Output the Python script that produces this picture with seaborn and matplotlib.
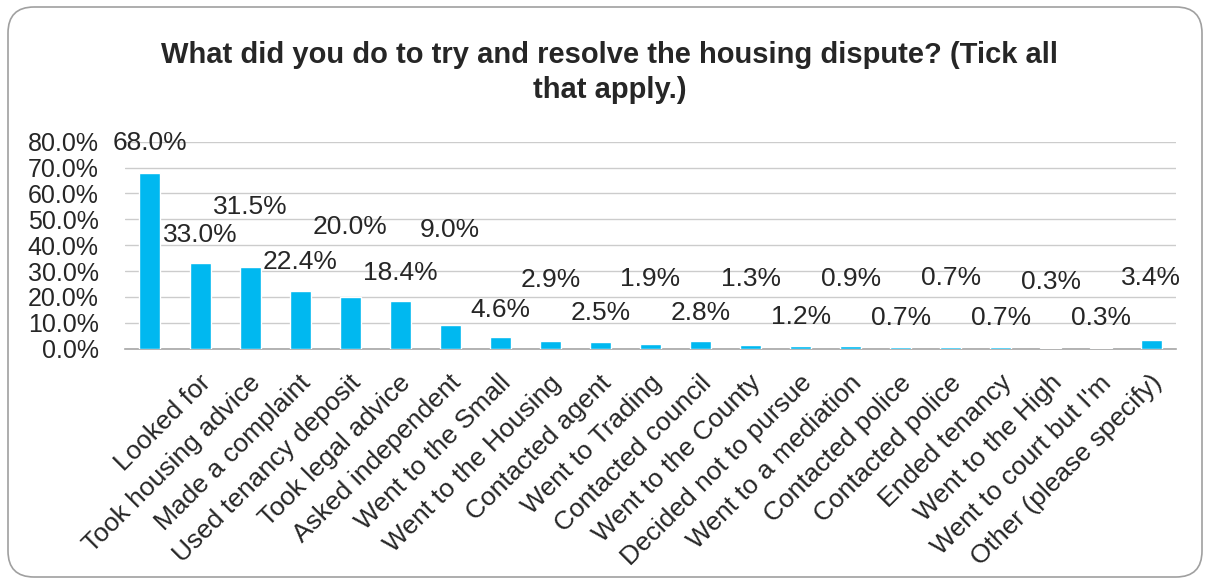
import numpy as np
import pandas as pd
import matplotlib
matplotlib.use("Agg")
import matplotlib.pyplot as plt
from matplotlib.patches import FancyBboxPatch
from matplotlib.ticker import FixedLocator, FuncFormatter
import seaborn as sns

# data
# (the x labels sit one slot to the right of the bars in the original,
#  so the first slot has no label)
categories = ["", "Looked for", "Took housing advice", "Made a complaint",
              "Used tenancy deposit", "Took legal advice", "Asked independent",
              "Went to the Small", "Went to the Housing", "Contacted agent",
              "Went to Trading", "Contacted council", "Went to the County",
              "Decided not to pursue", "Went to a mediation", "Contacted police",
              "Contacted police", "Ended tenancy", "Went to the High",
              "Went to court but I'm", "Other (please specify)"]
percent = [68.0, 33.0, 31.5, 22.4, 20.0, 18.4, 9.0, 4.6, 2.9, 2.5, 1.9,
           2.8, 1.3, 1.2, 0.9, 0.7, 0.7, 0.7, 0.3, 0.3, 3.4]

# where each data label was placed (in axis %), layout only
label_y = [79.4, 43.9, 54.7, 33.5, 47.0, 29.2, 45.8, 14.9, 26.5, 13.8, 26.9,
           13.8, 26.9, 12.2, 26.9, 11.8, 27.3, 11.8, 25.8, 11.8, 27.3]

df = pd.DataFrame({"pos": range(len(percent)), "pct": percent})

sns.set_style("white")
plt.rcParams["font.family"] = ["Liberation Sans", "DejaVu Sans"]

fig = plt.figure(figsize=(12.05, 5.82), dpi=100)
ax = fig.add_axes([0.1037, 0.4009, 0.8723, 0.3556])

sns.barplot(data=df, x="pos", y="pct", color="#00B8F0", width=0.42,
            saturation=1, ax=ax, zorder=3)

ax.set_xlim(-0.5, len(percent) - 0.5)
ax.set_ylim(0, 80)
ax.yaxis.set_major_locator(FixedLocator(np.arange(0, 81, 10)))
ax.yaxis.set_major_formatter(FuncFormatter(lambda v, p: f"{v:.1f}%"))
ax.grid(axis="y", color="#cccccc", lw=1)
ax.set_axisbelow(True)
for s in ["top", "right", "left"]:
    ax.spines[s].set_visible(False)
ax.spines["bottom"].set_color("#a6a6a6")
ax.spines["bottom"].set_linewidth(1.2)
ax.spines["bottom"].set_zorder(2)
ax.tick_params(axis="y", length=0, labelsize=18, pad=19)

# boundary ticks (major) and centre ticks (minor) like excel
ax.set_xticks(np.arange(-0.5, len(percent), 1.0))
ax.set_xticklabels([])
ax.set_xticks(np.arange(len(percent)), minor=True)
ax.tick_params(axis="x", which="major", direction="inout", length=15,
               width=1.2, color="#a6a6a6")
ax.tick_params(axis="x", which="minor", direction="inout", length=11,
               width=1.2, color="#a6a6a6")
ax.set_xlabel("")
ax.set_ylabel("")

for i, lab in enumerate(categories):
    ax.text(i - 0.03, -8.5, lab, rotation=45, ha="right", va="top",
            rotation_mode="anchor", fontsize=19, clip_on=False)

for i, v in enumerate(percent):
    ax.text(i, label_y[i], f"{v:.1f}%", ha="center", va="center", fontsize=19)

fig.text(0.506, 0.906, "What did you do to try and resolve the housing dispute? (Tick all",
         ha="center", va="center", fontsize=21, fontweight="bold")
fig.text(0.506, 0.846, "that apply.)", ha="center", va="center",
         fontsize=21, fontweight="bold")

# rounded chart border, in pixels
border = FancyBboxPatch((8, 5), 1194, 570,
                        boxstyle="round,pad=0,rounding_size=26",
                        transform=None, fill=False,
                        edgecolor="#a0a0a0", lw=1.2)
fig.patches.append(border)

fig.savefig("out.png", dpi=100)
